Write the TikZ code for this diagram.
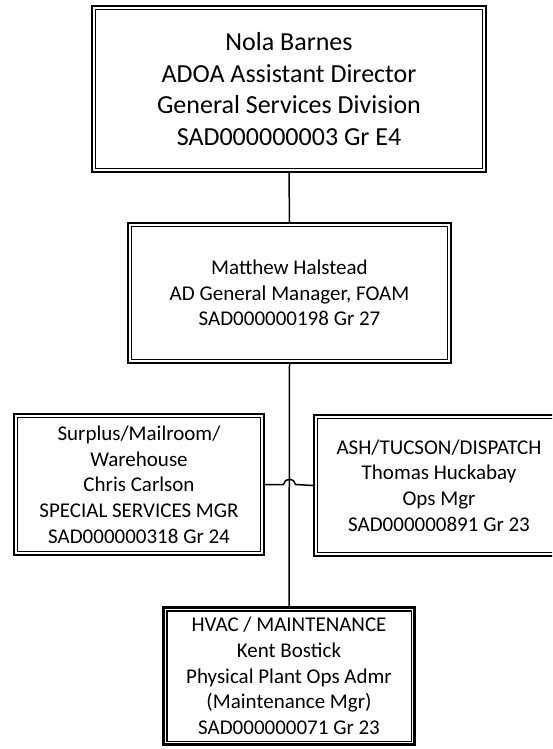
\documentclass[tikz,border=0pt]{standalone}
\usepackage{fontspec}
\setmainfont{Carlito}
\begin{document}
\begin{tikzpicture}[x=1pt,y=-1pt,
  orgbox/.style={draw, line width=2.2pt, inner sep=0pt, align=center,
    font=\fontsize{21}{25.7}\selectfont},
  topfont/.style={font=\fontsize{26}{31.5}\selectfont},
  link/.style={line width=1.5pt},
  inset/.style={line width=1.2pt}]
\useasboundingbox (0,0) rectangle (552,749);
\clip (0,0) rectangle (552,749);

% boxes
\node[orgbox, topfont, minimum width=394pt, minimum height=166pt] (dir) at (289,89)
  {Nola Barnes\\ADOA Assistant Director\\General Services Division\\SAD000000003 Gr E4};
\node[orgbox, minimum width=323pt, minimum height=140pt] (fm) at (289.5,293)
  {Matthew Halstead\\AD General Manager, FOAM\\SAD000000198 Gr 27};
\node[orgbox, minimum width=250pt, minimum height=141pt] (surp) at (139,484.5)
  {Surplus/Mailroom/\\Warehouse\\Chris Carlson\\SPECIAL SERVICES MGR\\SAD000000318 Gr 24};
\node[orgbox, minimum width=250pt, minimum height=141pt] (ash) at (439,485.5)
  {ASH/TUCSON/DISPATCH\\Thomas Huckabay\\Ops Mgr\\SAD000000891 Gr 23};
\node[orgbox, minimum width=251pt, minimum height=137pt] (hvac) at (289,676)
  {HVAC / MAINTENANCE\\Kent Bostick\\Physical Plant Ops Admr\\(Maintenance Mgr)\\SAD000000071 Gr 23};

% inner frame of each double border
\foreach \n in {dir,fm,surp,ash,hvac}
  \draw[inset] ([shift={(4.5pt,4.5pt)}]\n.south west) rectangle ([shift={(-4.5pt,-4.5pt)}]\n.north east);

% connectors
\draw[link] (dir.south) -- (fm.north);
\draw[link] (fm.south) -- (hvac.north);
\coordinate (hop) at (fm.south |- surp.east);
\draw[link] (surp.east) -- ([xshift=-6pt]hop)
  arc[start angle=180, end angle=0, x radius=6pt, y radius=5pt] -- (ash.west);
\end{tikzpicture}
\end{document}
